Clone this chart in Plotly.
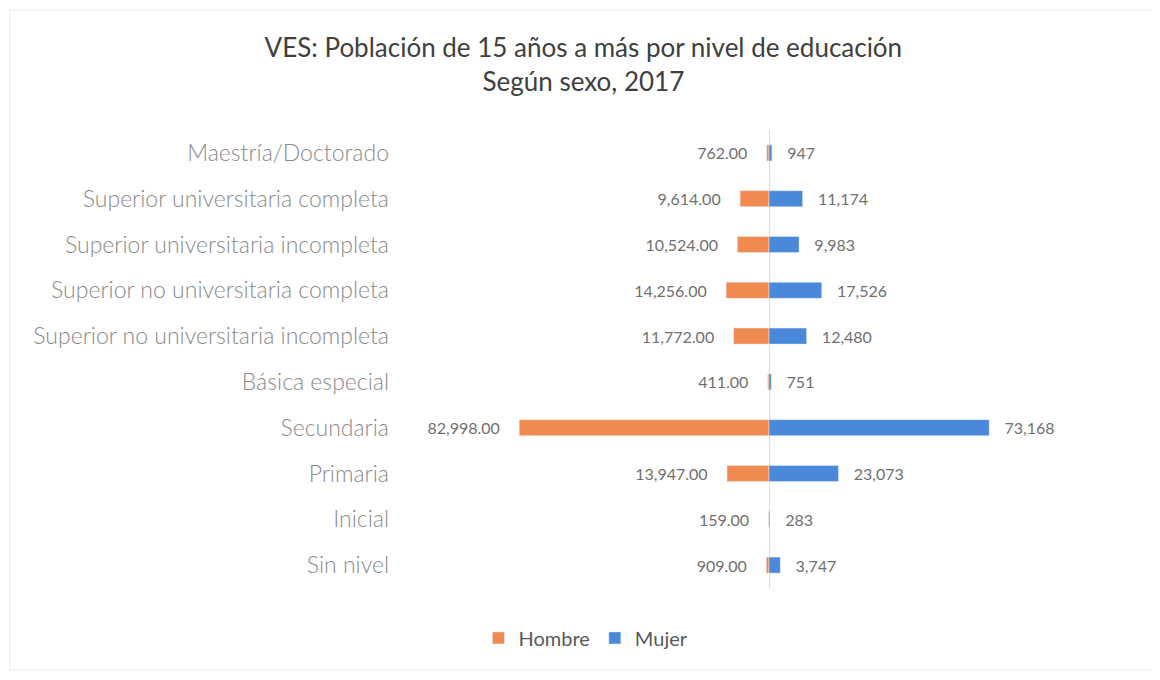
import plotly.graph_objects as go

categories = ["Sin nivel", "Inicial", "Primaria", "Secundaria", "Básica especial",
              "Superior no universitaria incompleta", "Superior no universitaria completa",
              "Superior universitaria incompleta", "Superior universitaria completa",
              "Maestría/Doctorado"]
hombre = [909, 159, 13947, 82998, 411, 11772, 14256, 10524, 9614, 762]
mujer = [3747, 283, 23073, 73168, 751, 12480, 17526, 9983, 11174, 947]

font_family = "Lato, 'Open Sans', sans-serif"
pad = "\u00a0" * 4

fig = go.Figure()
fig.add_trace(go.Bar(
    y=categories, x=[-v for v in hombre], orientation="h", name="Hombre",
    marker=dict(color="#F08A50"),
    text=[f"{v:,.2f}" + pad for v in hombre], textposition="outside",
    textfont=dict(size=16, color="#707070", family=font_family),
    constraintext="none", cliponaxis=False,
))
fig.add_trace(go.Bar(
    y=categories, x=mujer, orientation="h", name="Mujer",
    marker=dict(color="#4A88DA"),
    text=[pad[:3] + f"{v:,}" for v in mujer], textposition="outside",
    textfont=dict(size=16, color="#707070", family=font_family),
    constraintext="none", cliponaxis=False,
))

fig.update_layout(
    width=1160, height=680,
    barmode="overlay", bargap=0.65,
    paper_bgcolor="white", plot_bgcolor="white",
    font=dict(family=font_family, color="#8a8a8a"),
    title=dict(text="VES: Población de 15 años a más por nivel de educación<br>Según sexo, 2017",
               x=0.496, xanchor="center", y=0.928, yanchor="top",
               font=dict(size=26, color="#404040", family=font_family)),
    margin=dict(l=392, r=33, t=122, b=100),
    xaxis=dict(range=[-122600, 121600], showticklabels=False, showgrid=False,
               zeroline=True, zerolinecolor="#dadada", zerolinewidth=1, fixedrange=True),
    yaxis=dict(categoryorder="array", categoryarray=categories,
               tickfont=dict(size=23, color="#8a8a8a", family=font_family, weight=300),
               ticks="", ticklabelstandoff=10, showgrid=False),
    legend=dict(orientation="h", x=0.253, xanchor="center", y=-0.109, yanchor="middle",
                font=dict(size=20, color="#595959", family=font_family),
                itemwidth=30),
    showlegend=True,
    shapes=[dict(type="rect", xref="paper", yref="paper",
                 x0=-0.531, x1=1.031, y0=-0.179, y1=1.262,
                 line=dict(color="#ececec", width=1))],
)

fig.write_html("out.html")
